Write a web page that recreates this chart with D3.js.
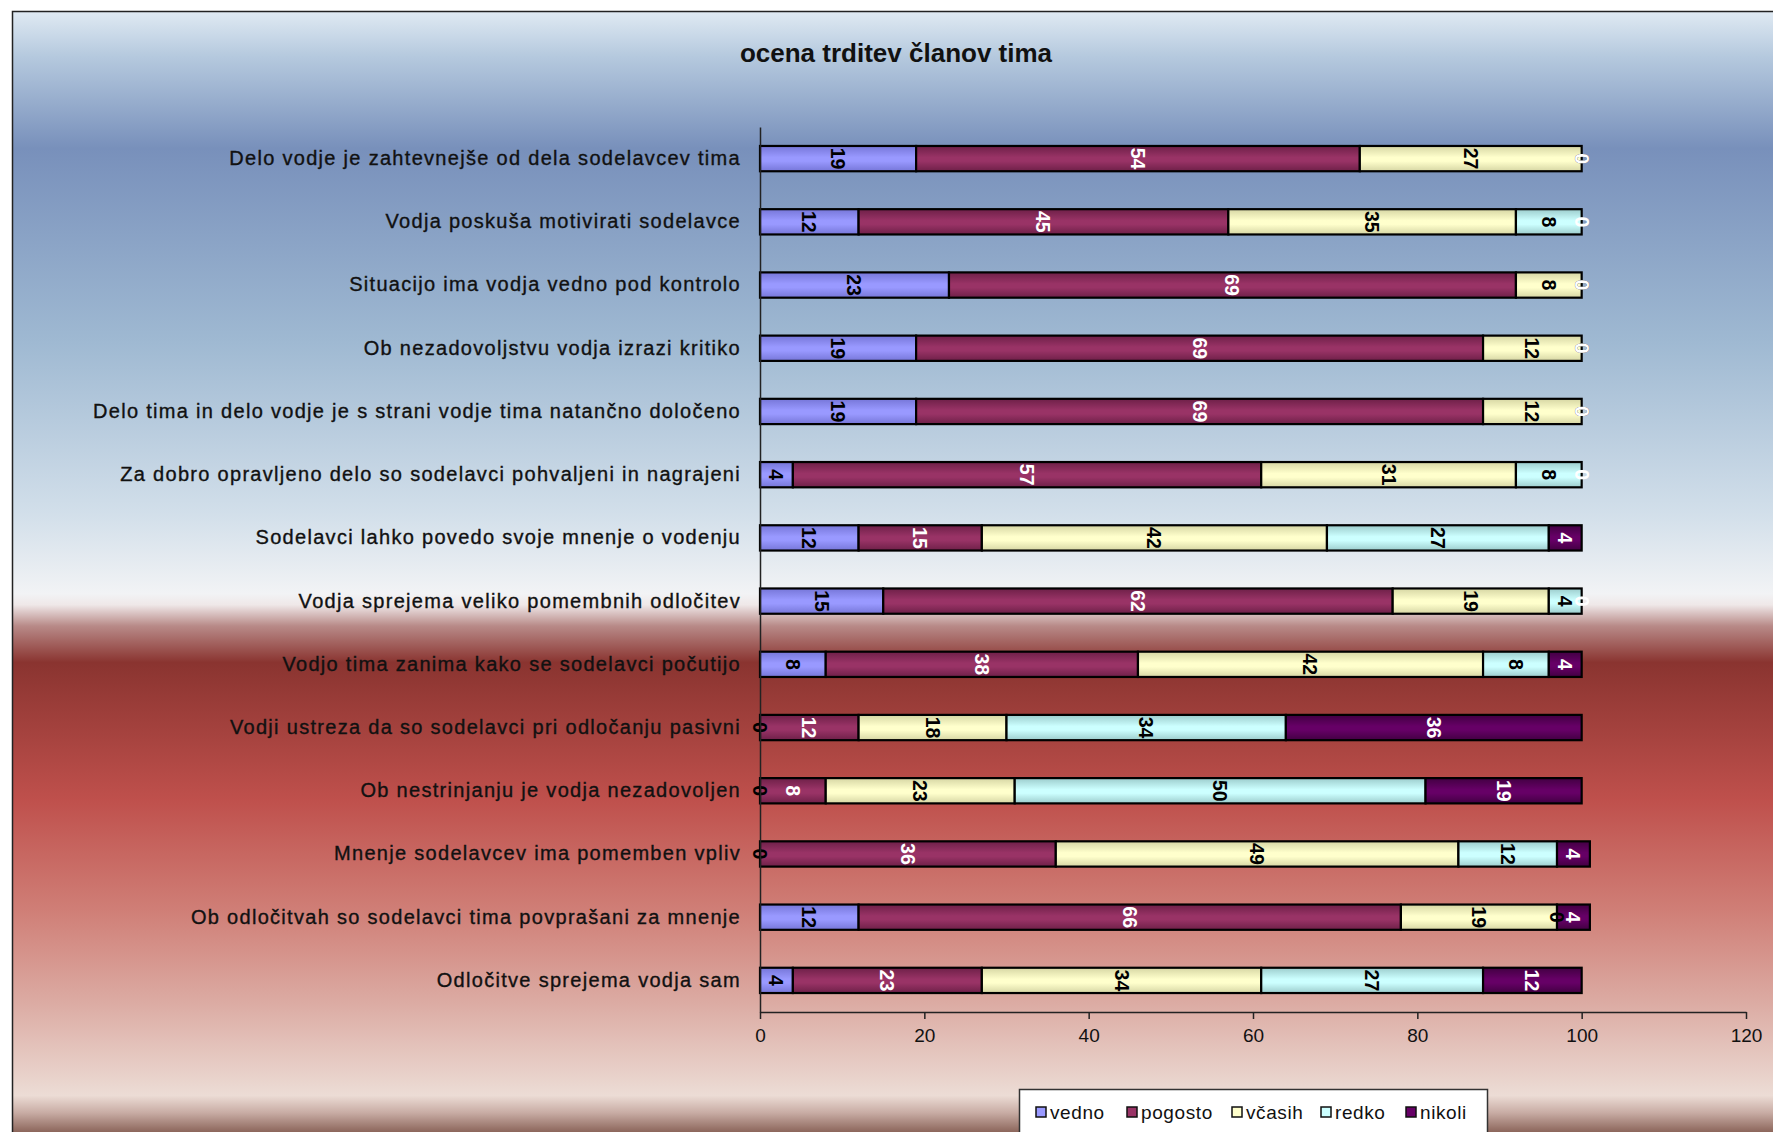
<!DOCTYPE html>
<html>
<head>
<meta charset="utf-8">
<script src="https://cdn.jsdelivr.net/npm/d3@7"></script>
<style>
  body { margin: 0; background: #fff; }
  text { font-family: "Liberation Sans", Arial, sans-serif; }
</style>
</head>
<body>
<div id="chart"></div>
<script>
// statements (top to bottom as drawn)
var statements = [
  "Delo vodje je zahtevnejše od dela sodelavcev tima",
  "Vodja poskuša motivirati sodelavce",
  "Situacijo ima vodja vedno pod kontrolo",
  "Ob nezadovoljstvu vodja izrazi kritiko",
  "Delo tima in delo vodje je s strani vodje tima natančno določeno",
  "Za dobro opravljeno delo so sodelavci pohvaljeni in nagrajeni",
  "Sodelavci lahko povedo svoje mnenje o vodenju",
  "Vodja sprejema veliko pomembnih odločitev",
  "Vodjo tima zanima kako se sodelavci počutijo",
  "Vodji ustreza da so sodelavci pri odločanju pasivni",
  "Ob nestrinjanju je vodja nezadovoljen",
  "Mnenje sodelavcev ima pomemben vpliv",
  "Ob odločitvah so sodelavci tima povprašani za mnenje",
  "Odločitve sprejema vodja sam"
];
var seriesNames = ["vedno", "pogosto", "včasih", "redko", "nikoli"];
var vedno   = [19, 12, 23, 19, 19,  4, 12, 15,  8,  0,  0,  0, 12,  4];
var pogosto = [54, 45, 69, 69, 69, 57, 15, 62, 38, 12,  8, 36, 66, 23];
var vcasih  = [27, 35,  8, 12, 12, 31, 42, 19, 42, 18, 23, 49, 19, 34];
var redko   = [ 0,  8,  0,  0,  0,  8, 27,  4,  8, 34, 50, 12,  0, 27];
var nikoli  = [ 0,  0,  0,  0,  0,  0,  4,  0,  4, 36, 19,  4,  4, 12];
var xTicks = [0, 20, 40, 60, 80, 100, 120];
var title = "ocena trditev članov tima";

var w = 1773, h = 1132;
var colors = ["#9999ff", "#993366", "#ffffcc", "#ccffff", "#660066"];
var edgeColors = ["#7676d8", "#6e2048", "#d6d6a4", "#9ccccc", "#420042"];
var labelColors = ["#000", "#fff", "#000", "#000", "#fff"];

var rows = statements.map(function(s, i) {
  return { name: s, "vedno": vedno[i], "pogosto": pogosto[i], "včasih": vcasih[i], "redko": redko[i], "nikoli": nikoli[i] };
});
var series = d3.stack().keys(seriesNames)(rows);

var svg = d3.select("#chart").append("svg")
  .attr("width", w).attr("height", h);
var defs = svg.append("defs");

// background gradient
var bgStops = [
  [11, "#e0eaf3"], [56, "#b5c9de"], [147, "#7890bb"], [339, "#9fb9d2"],
  [509, "#d2dfea"], [588, "#f2f3f5"], [599, "#efe8e8"], [620, "#b88a88"],
  [656, "#8a3430"], [792, "#bf504c"], [905, "#d08078"], [995, "#dcaca4"],
  [1085, "#ecdcd5"], [1102, "#c8aca4"], [1132, "#6a3e32"]
];
var bg = defs.append("linearGradient").attr("id", "bg")
  .attr("x1", 0).attr("y1", 0).attr("x2", 0).attr("y2", 1);
bg.selectAll("stop").data(bgStops).enter().append("stop")
  .attr("offset", function(d) { return (d[0] - 11) / 1121; })
  .attr("stop-color", function(d) { return d[1]; });

seriesNames.forEach(function(n, i) {
  var g = defs.append("linearGradient").attr("id", "g" + i)
    .attr("x1", 0).attr("y1", 0).attr("x2", 0).attr("y2", 1);
  g.append("stop").attr("offset", 0).attr("stop-color", edgeColors[i]);
  g.append("stop").attr("offset", 0.45).attr("stop-color", colors[i]);
  g.append("stop").attr("offset", 0.6).attr("stop-color", colors[i]);
  g.append("stop").attr("offset", 1).attr("stop-color", edgeColors[i]);
});

svg.append("rect").attr("x", 12).attr("y", 11).attr("width", w).attr("height", h)
  .attr("fill", "url(#bg)");
svg.append("path").attr("d", "M12.5," + h + "V11.5H" + w)
  .attr("fill", "none").attr("stroke", "#222").attr("stroke-width", 1.5);

svg.append("text")
  .attr("x", 896).attr("y", 62)
  .attr("text-anchor", "middle")
  .style("font-size", "26px").style("font-weight", "bold")
  .attr("fill", "#111")
  .text(title);

var xscale = d3.scaleLinear().domain([0, 120]).range([760, 1746]);
var yscale = d3.scaleBand().domain(statements).range([127, 1012])
  .paddingInner(0.6).paddingOuter(0.3);

// bars
var groups = svg.selectAll("g.series").data(series).enter()
  .append("g").attr("class", "series")
  .attr("fill", function(d, i) { return "url(#g" + i + ")"; });

groups.selectAll("rect").data(function(d) { return d; }).enter()
  .append("rect")
  .attr("x", function(d) { return xscale(d[0]); })
  .attr("y", function(d) { return yscale(d.data.name); })
  .attr("width", function(d) { return xscale(d[1]) - xscale(d[0]); })
  .attr("height", yscale.bandwidth())
  .attr("stroke", "#000").attr("stroke-width", 2.2);

// value labels, rotated
series.forEach(function(s, i) {
  svg.append("g").selectAll("text").data(s).enter()
    .append("text")
    .attr("transform", function(d) {
      var cx = xscale((d[0] + d[1]) / 2);
      var cy = yscale(d.data.name) + yscale.bandwidth() / 2;
      return "translate(" + cx + "," + cy + ") rotate(90)";
    })
    .attr("text-anchor", "middle")
    .attr("dy", "0.36em")
    .style("font-size", "19.5px").style("font-weight", "bold")
    .attr("fill", labelColors[i])
    .text(function(d) { return d[1] - d[0]; });
});

// x axis
var xAxis = svg.append("g")
  .attr("transform", "translate(0," + 1012 + ")")
  .call(d3.axisBottom(xscale).tickValues(xTicks).tickSize(7).tickSizeOuter(0));
xAxis.select(".domain").attr("stroke", "#222").attr("stroke-width", 1.5);
xAxis.selectAll(".tick line").attr("stroke", "#222").attr("stroke-width", 1.5);
xAxis.selectAll("text").style("font-size", "19px").attr("fill", "#111").attr("y", 17);

// y axis
var yAxis = svg.append("g")
  .attr("transform", "translate(760,0)")
  .call(d3.axisLeft(yscale).tickSize(0).tickPadding(19));
yAxis.select(".domain").attr("stroke", "#222").attr("stroke-width", 1.5);
yAxis.selectAll("text")
  .style("font-size", "20px").style("letter-spacing", "1.3px")
  .attr("fill", "#111").attr("stroke", "#111").attr("stroke-width", 0.35);

// legend
var legend = svg.append("g");
legend.append("rect").attr("x", 1019.5).attr("y", 1089.5)
  .attr("width", 468).attr("height", 60)
  .attr("fill", "#fff").attr("stroke", "#333").attr("stroke-width", 1.5);
var legX = [1041, 1132, 1237, 1326, 1411];
var items = legend.selectAll("g.item").data(seriesNames).enter()
  .append("g").attr("class", "item")
  .attr("transform", function(d, i) { return "translate(" + legX[i] + ",1112)"; });
items.append("rect").attr("x", -5).attr("y", -5).attr("width", 10).attr("height", 10)
  .attr("fill", function(d, i) { return colors[i]; })
  .attr("stroke", "#111").attr("stroke-width", 1.5);
items.append("text").attr("x", 9).attr("dy", "0.35em")
  .style("font-size", "19px").style("letter-spacing", "0.6px").attr("fill", "#111")
  .text(function(d) { return d; });
</script>
</body>
</html>
